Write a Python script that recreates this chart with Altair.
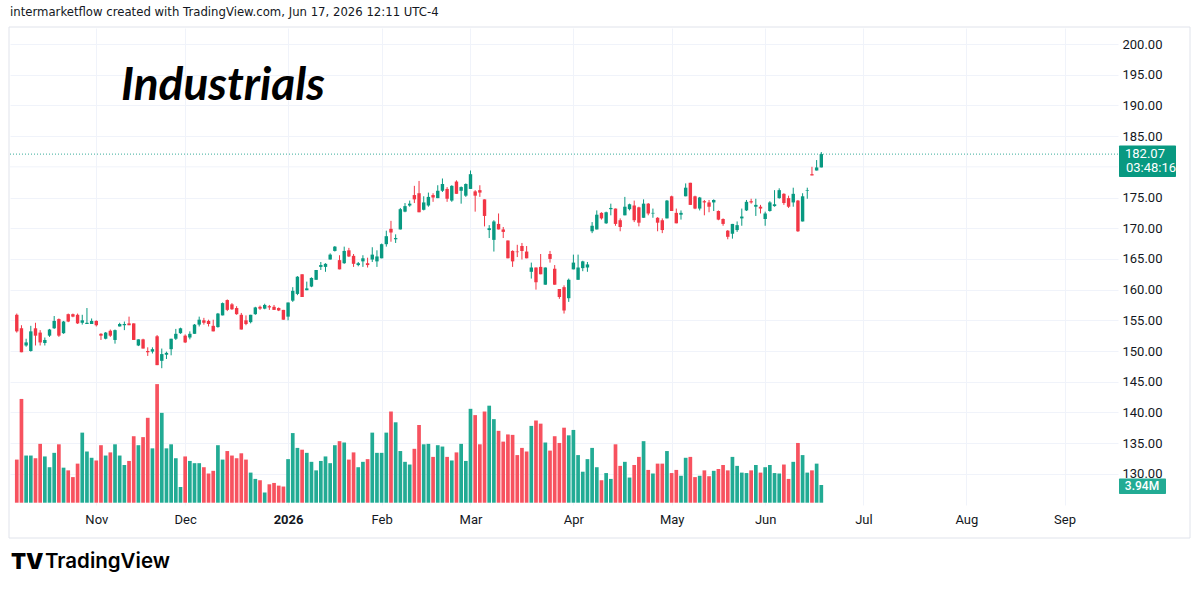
import altair as alt
import pandas as pd

# ---------------- data ----------------
opens = [155.9,153.7,150.9,150.0,153.7,153.0,151.3,152.5,153.7,155.2,
         152.9,156.0,156.0,155.9,154.6,154.4,154.4,154.9,152.8,152.0,
         153.3,151.8,154.0,154.2,154.5,154.5,150.9,151.9,150.0,149.9,
         152.4,148.4,149.4,150.3,152.0,152.9,152.5,152.2,152.8,154.3,
         155.0,154.9,154.1,153.9,155.8,158.3,157.6,157.0,155.9,155.0,
         154.7,156.0,157.2,156.9,157.3,157.2,157.0,156.7,155.6,158.2,
         159.3,162.5,159.9,160.5,161.6,163.7,163.7,164.9,166.3,164.8,
         164.3,166.4,165.5,164.0,164.6,164.3,164.9,164.6,165.1,167.4,
         169.9,168.2,169.8,172.7,173.7,175.4,175.7,173.0,173.7,175.4,
         174.9,176.1,176.4,174.5,177.6,176.1,175.3,176.4,176.0,176.2,
         174.7,169.7,168.1,170.7,169.8,168.0,166.3,166.2,167.1,166.2,
         162.9,163.6,163.7,160.8,165.8,163.4,160.1,160.4,158.6,163.3,
         161.6,163.5,163.6,169.5,169.8,172.5,170.8,173.1,173.2,171.3,
         172.1,173.1,173.7,173.4,171.7,174.0,172.4,171.7,171.3,171.6,
         175.2,172.5,172.2,175.2,177.4,175.2,173.2,174.4,174.2,174.2,
         172.8,171.5,169.6,169.1,169.7,171.6,172.9,174.4,173.5,173.5,
         171.5,172.8,173.6,174.9,175.6,174.9,174.2,174.5,171.1,176.1,
         178.8,179.4,179.9]
highs = [156.1,154.2,152.0,154.1,154.6,153.4,152.2,153.6,155.7,155.3,
         154.9,156.1,156.1,156.1,155.9,157.0,155.3,155.0,152.9,153.1,
         153.5,153.5,154.6,154.8,155.6,154.5,151.9,152.0,150.6,150.6,
         152.6,150.4,149.9,152.0,153.6,153.8,152.7,153.2,154.4,155.6,
         155.4,155.1,155.1,156.2,157.9,158.4,157.8,157.3,156.2,155.8,
         155.9,157.2,157.4,157.7,157.5,157.5,157.1,156.7,157.9,160.4,
         162.2,162.5,161.3,162.0,163.2,164.5,164.3,165.9,167.1,165.6,
         167.0,166.8,165.8,164.5,165.6,165.2,166.9,166.4,167.5,169.6,
         171.2,169.0,173.3,174.1,174.5,176.9,177.7,175.2,175.8,175.7,
         177.0,178.1,176.7,177.0,177.8,176.8,177.3,179.4,176.2,177.0,
         174.7,170.5,171.3,172.4,170.2,168.0,166.4,167.3,167.6,167.1,
         164.4,163.6,165.8,163.6,166.3,164.0,160.1,160.7,161.8,165.7,
         165.7,164.7,164.5,171.0,172.9,172.6,172.7,174.0,173.2,171.6,
         175.1,174.0,174.5,173.5,174.7,174.1,173.2,171.8,171.6,174.6,
         175.3,173.2,172.9,177.3,177.4,175.3,175.1,174.6,174.6,174.7,
         172.9,171.6,169.7,170.7,171.1,173.2,174.6,174.8,174.8,173.8,
         172.7,174.4,176.2,176.5,175.7,175.3,176.6,174.6,175.7,176.6,
         180.0,181.1,182.4]
lows = [153.0,149.8,150.7,149.9,150.9,150.9,150.9,152.3,153.6,152.3,
        152.8,154.7,155.5,154.4,154.3,154.4,154.4,154.0,151.8,151.9,
        152.3,151.2,154.0,153.4,154.2,151.8,150.8,150.4,149.2,149.6,
        147.7,147.2,148.7,149.3,151.8,152.8,151.3,151.9,152.8,154.0,
        154.3,154.0,153.2,153.8,155.8,156.5,156.7,155.9,153.5,154.2,
        154.5,155.9,156.7,156.8,156.7,156.7,156.5,155.1,155.0,158.0,
        159.1,158.8,159.9,160.4,161.6,163.2,162.9,164.9,166.2,163.3,
        164.2,165.3,163.7,163.8,163.7,163.6,164.5,163.7,165.1,167.0,
        167.8,167.6,169.8,172.6,173.5,174.1,172.6,172.9,173.5,174.3,
        174.9,175.9,174.3,174.3,175.6,174.0,175.1,176.4,172.7,175.1,
        170.3,168.4,166.2,169.8,168.4,165.1,163.7,165.3,164.9,165.1,
        161.8,160.0,162.5,160.8,164.4,160.8,158.5,156.1,158.0,163.3,
        161.6,163.0,162.9,169.2,169.8,171.4,170.7,172.1,170.4,169.5,
        172.1,172.9,171.0,170.3,171.7,172.1,171.7,169.5,169.2,171.6,
        172.8,170.8,171.4,175.2,173.8,173.1,172.9,172.1,172.6,172.8,
        171.3,170.4,168.2,168.3,169.4,170.4,172.8,174.0,172.0,172.4,
        170.4,172.7,173.5,174.8,173.8,173.3,173.5,169.4,171.1,174.8,
        178.6,179.4,179.9]
closes = [153.2,149.8,151.4,153.2,152.5,151.4,151.8,153.5,154.9,152.5,
          154.8,154.8,155.6,154.5,155.0,154.6,154.9,154.2,152.5,153.0,
          152.5,153.4,154.4,154.4,154.2,151.8,151.9,150.4,149.8,150.3,
          147.7,149.5,149.7,152.0,152.8,153.7,151.4,152.8,154.3,155.1,
          154.6,154.4,153.2,156.1,157.8,156.7,156.8,156.0,153.5,154.4,
          155.9,157.1,156.9,157.5,157.1,156.7,156.6,155.1,157.9,159.8,
          162.1,158.8,160.2,161.9,163.2,164.0,164.2,165.7,167.0,163.3,
          166.3,165.4,164.2,164.3,165.1,164.0,165.7,165.4,167.4,168.7,
          169.3,168.4,173.1,173.6,174.0,174.7,172.6,174.2,175.1,175.0,
          176.1,177.2,174.8,176.9,175.6,176.7,177.2,178.8,175.3,175.8,
          172.0,170.0,171.1,169.8,169.4,165.1,164.6,166.1,166.3,165.1,
          163.6,161.2,162.5,163.6,165.0,160.8,158.8,156.6,161.6,164.4,
          163.6,164.6,164.1,170.4,172.2,171.6,172.6,173.3,170.7,170.2,
          173.5,173.9,171.3,170.9,174.0,172.4,172.5,170.9,169.7,174.5,
          172.8,170.8,172.5,176.6,173.8,173.2,175.0,174.2,173.5,174.6,
          171.4,170.7,168.6,170.7,170.5,171.9,174.3,174.2,173.8,173.2,
          172.4,174.2,173.9,176.2,174.1,173.5,175.6,169.5,175.2,176.2,
          178.6,179.9,182.07]
volumes_m = [9.6,23.1,10.5,10.5,9.9,13.1,10.3,7.9,11.1,13.0,
             7.8,7.2,5.7,8.7,15.6,11.4,10.0,9.4,12.8,10.5,
             11.2,13.0,10.5,8.4,9.3,14.8,12.8,14.6,18.9,12.1,
             26.4,20.0,12.1,13.0,9.9,3.5,10.3,9.3,8.8,8.8,
             7.9,6.5,7.1,12.8,9.6,11.5,10.5,9.9,11.0,9.6,
             6.7,5.3,5.0,2.3,4.1,4.4,3.8,3.6,9.7,15.5,
             12.2,11.8,11.1,9.1,7.2,9.3,10.3,8.8,12.8,13.7,
             13.4,9.6,11.2,7.9,9.1,9.7,15.6,11.1,11.1,15.6,
             20.3,17.9,11.5,9.1,8.5,12.0,17.3,13.0,13.1,10.2,
             12.8,12.5,10.2,9.4,11.2,13.1,9.3,20.9,19.5,13.0,
             20.3,21.6,18.6,16.0,13.6,15.2,15.1,10.6,12.2,11.4,
             17.1,18.3,17.6,13.4,11.6,14.8,13.3,16.7,15.0,16.2,
             10.6,6.9,9.7,12.2,7.9,5.0,6.6,5.3,13.0,8.2,
             9.1,5.6,8.4,10.2,13.7,7.3,6.5,8.7,8.7,11.5,
             6.6,7.3,6.0,10.0,10.2,5.7,6.0,7.2,5.9,7.1,
             7.5,8.4,7.2,10.2,8.2,6.7,6.6,7.2,8.4,6.7,
             7.9,8.4,6.6,6.5,8.5,5.3,9.1,13.3,10.6,6.7,
             7.2,8.7,3.94]

# bar index of the first trading day of each month (future months extrapolated)
month_idx = [17, 36, 58, 78, 97, 119, 140, 160, 181, 203, 224]
month_lbl = ["Nov", "Dec", "2026", "Feb", "Mar", "Apr", "May", "Jun", "Jul", "Aug", "Sep"]
# labelled price levels (180.00 sits under the last-price box in the reference)
price_ticks = [130, 135, 140, 145, 150, 155, 160, 165, 170, 175, 185, 190, 195, 200]
hidden_grid = [180]

last_close = 182.07
last_close_lbl = "182.07"
countdown_lbl = "03:48:16"
last_volume = 3.94
last_volume_lbl = "3.94M"
header = "intermarketflow created with TradingView.com, Jun 17, 2026 12:11 UTC-4"
title = "Industrials"

# ---------------- styling ----------------
GREEN = "#089981"
RED = "#F23645"
VGREEN = "#22AB94"
VRED = "#F7525F"
GRID = "#F0F3FA"
TXT = "#131722"
FONT = "Roboto"

W, H = 1108, 477
X_DOM = [-0.38, 234.36]
P_DOM = [124.92, 202.61]
V_DOM = [-0.51, 105.67]
ppu = H / (P_DOM[1] - P_DOM[0])      # pixels per price unit
vpp = (V_DOM[1] - V_DOM[0]) / H      # volume units per pixel

df = pd.DataFrame({"i": list(range(len(opens))), "o": opens, "h": highs,
                   "l": lows, "c": closes, "v": volumes_m})

label_expr = "".join(f"datum.value == {i} ? '{m}' : " for i, m in zip(month_idx, month_lbl)) + "''"

x_enc = alt.X("i:Q", scale=alt.Scale(domain=X_DOM, nice=False, zero=False),
              axis=alt.Axis(values=month_idx, labelExpr=label_expr, grid=True,
                            gridColor=GRID, ticks=False, domain=False, title=None,
                            labelPadding=8, labelFontSize=13, labelFont=FONT,
                            labelColor=TXT, labelOverlap=False, labelFlush=False,
                            labelFontWeight={"condition": {"test": "datum.value == 58", "value": "bold"},
                                             "value": "normal"}))
p_scale = alt.Scale(domain=P_DOM, nice=False, zero=False)
v_scale = alt.Scale(domain=V_DOM, nice=False, zero=False)

up_col = alt.condition("datum.c >= datum.o", alt.value(GREEN), alt.value(RED))
vol_col = alt.condition("datum.c >= datum.o", alt.value(VGREEN), alt.value(VRED))

base = alt.Chart(df)

# ---- volume group ----
vol = base.mark_bar(size=3.7).encode(
    x=x_enc,
    y=alt.Y("v:Q", scale=v_scale, axis=None),
    y2=alt.datum(0),
    color=vol_col,
)
vbox_df = pd.DataFrame({"top": [last_volume + 6.5 * vpp], "bot": [last_volume - 9 * vpp],
                        "v": [last_volume], "t": [last_volume_lbl]})
vbox = alt.Chart(vbox_df).mark_rect(color=VGREEN, cornerRadius=1).encode(
    x=alt.value(1109), x2=alt.value(1156),
    y=alt.Y("top:Q", scale=v_scale, axis=None), y2="bot:Q")
vtxt = alt.Chart(vbox_df).mark_text(color="white", fontSize=12, font=FONT, align="center",
                                     baseline="middle", fontWeight=500, dy=1).encode(
    x=alt.value(1132), y=alt.Y("v:Q", scale=v_scale, axis=None), text="t:N")
vol_group = alt.layer(vol, vbox, vtxt)

# ---- price group ----
y_axis = alt.Axis(values=price_ticks, format=".2f", orient="right", grid=True, gridColor=GRID,
                  ticks=False, domain=False, title=None, labelPadding=4, labelFontSize=13,
                  labelFont=FONT, labelColor=TXT, labelOverlap=False, labelBound=False)
grid180 = alt.Chart(pd.DataFrame({"g": hidden_grid})).mark_rule(color=GRID, strokeWidth=1).encode(
    y=alt.Y("g:Q", scale=p_scale, axis=y_axis))
wick = base.mark_rule(strokeWidth=1).encode(
    x=x_enc, y=alt.Y("l:Q", scale=p_scale, axis=y_axis), y2="h:Q", color=up_col)
body = base.mark_bar(size=3.4).encode(
    x=x_enc, y=alt.Y("o:Q", scale=p_scale, axis=y_axis), y2="c:Q", color=up_col)

last_df = pd.DataFrame({"p": [last_close], "top": [last_close + 8.5 / ppu],
                        "bot": [last_close - 23 / ppu], "t1": [last_close_lbl], "t2": [countdown_lbl]})
pline = alt.Chart(last_df).mark_rule(color=GREEN, strokeDash=[1, 2], strokeWidth=1, opacity=0.8).encode(
    y=alt.Y("p:Q", scale=p_scale, axis=y_axis))
pbox = alt.Chart(last_df).mark_rect(color=GREEN, cornerRadius=1).encode(
    x=alt.value(1109), x2=alt.value(1166), y=alt.Y("top:Q", scale=p_scale, axis=y_axis), y2="bot:Q")
ptxt1 = alt.Chart(last_df).mark_text(color="white", fontSize=13, font=FONT, align="left",
                                      baseline="middle").encode(
    x=alt.value(1115), y=alt.Y("p:Q", scale=p_scale, axis=y_axis), text="t1:N")
ptxt2 = alt.Chart(last_df).mark_text(color="white", fontSize=13, font=FONT, align="left",
                                      baseline="middle", dy=14).encode(
    x=alt.value(1116), y=alt.Y("p:Q", scale=p_scale, axis=y_axis), text="t2:N")

# ---- decorations ----
txt_df = pd.DataFrame({"header": [header], "title": [title], "brand": ["TradingView"], "logo": ["TV"]})
frame = alt.Chart(txt_df).mark_rect(filled=False, stroke="#E0E3EB", strokeWidth=1).encode(
    x=alt.value(-1), x2=alt.value(1180), y=alt.value(-1), y2=alt.value(510))
head = alt.Chart(txt_df).mark_text(align="left", baseline="middle", fontSize=11.7,
                                   font="DejaVu Sans", color=TXT).encode(
    x=alt.value(0), y=alt.value(-16), text="header:N")
ttl = alt.Chart(txt_df).mark_text(align="left", baseline="alphabetic", fontSize=46, font="Lato",
                                  fontStyle="italic", fontWeight="bold", color="#000000").encode(
    x=alt.value(111), y=alt.value(72), text="title:N")
logo = alt.Chart(txt_df).mark_text(align="left", baseline="middle", fontSize=22, font="Inter",
                                   fontWeight=900, color="#000000").encode(
    x=alt.value(1), y=alt.value(534), text="logo:N")
brand = alt.Chart(txt_df).mark_text(align="left", baseline="middle", fontSize=20.5, font="Inter",
                                    fontWeight=600, color="#000000").encode(
    x=alt.value(35), y=alt.value(534), text="brand:N")

price_group = alt.layer(grid180, pline, wick, body, pbox, ptxt1, ptxt2, frame, head, ttl, logo, brand)

chart = alt.layer(vol_group, price_group).resolve_scale(y="independent").properties(
    width=W, height=H,
    autosize=alt.AutoSizeParams(type="none"),
    padding={"left": 10, "top": 28, "right": 1195 - 10 - W, "bottom": 591 - 28 - H},
    background="white",
).configure_view(stroke=None).configure_axis(labelOverlap=False)

chart.save("out.html", embed_options={"renderer": "svg", "actions": False})
